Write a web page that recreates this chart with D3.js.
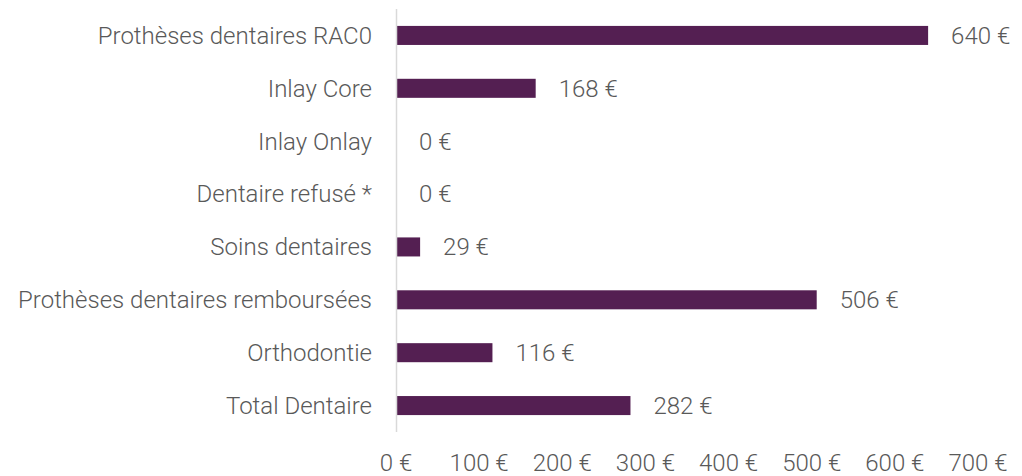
<!DOCTYPE html>
<html>
<head>
<meta charset="utf-8">
<script src="https://cdn.jsdelivr.net/npm/d3@7"></script>
<style>
  body { margin: 0; background: #fff; }
  text { font-family: Roboto, "Open Sans", sans-serif; font-weight: 300; fill: #595959; }
</style>
</head>
<body>
<svg id="chart" width="1022" height="476"></svg>
<script>
const categories = [
  "Prothèses dentaires RAC0",
  "Inlay Core",
  "Inlay Onlay",
  "Dentaire refusé *",
  "Soins dentaires",
  "Prothèses dentaires remboursées",
  "Orthodontie",
  "Total Dentaire"
];
const values = [640, 168, 0, 0, 29, 506, 116, 282];
const xTicks = [0, 100, 200, 300, 400, 500, 600, 700];

const W = 1022, H = 476;
const plotLeft = 396, plotRight = 978, plotTop = 9, plotBottom = 432;
const fontSize = 24;

const svg = d3.select("#chart");

const x = d3.scaleLinear().domain([0, 700]).range([plotLeft, plotRight]);
const y = d3.scaleBand().domain(categories).range([plotTop, plotBottom]).paddingInner(0.64).paddingOuter(0.32);

const data = categories.map((c, i) => ({cat: c, val: values[i]}));

// bars
svg.append("g")
  .selectAll("rect")
  .data(data)
  .enter().append("rect")
    .attr("x", x(0))
    .attr("y", d => y(d.cat))
    .attr("width", d => x(d.val) - x(0))
    .attr("height", y.bandwidth())
    .attr("fill", "#541f52");

// vertical axis line
svg.append("line")
  .attr("x1", x(0) + 0.5).attr("x2", x(0) + 0.5)
  .attr("y1", plotTop).attr("y2", plotBottom)
  .attr("stroke", "#d9d9d9")
  .attr("stroke-width", 1.5);

// category labels
svg.append("g")
  .selectAll("text")
  .data(data)
  .enter().append("text")
    .attr("x", x(0) - 24)
    .attr("y", d => y(d.cat) + y.bandwidth() / 2)
    .attr("dy", "0.35em")
    .attr("text-anchor", "end")
    .style("font-size", fontSize + "px")
    .text(d => d.cat);

// value labels
svg.append("g")
  .selectAll("text")
  .data(data)
  .enter().append("text")
    .attr("x", d => x(d.val) + 23)
    .attr("y", d => y(d.cat) + y.bandwidth() / 2)
    .attr("dy", "0.35em")
    .style("font-size", fontSize + "px")
    .text(d => d.val + " €");

// x tick labels
svg.append("g")
  .selectAll("text")
  .data(xTicks)
  .enter().append("text")
    .attr("x", d => x(d))
    .attr("y", 463)
    .attr("dy", "0.35em")
    .attr("text-anchor", "middle")
    .style("font-size", fontSize + "px")
    .text(d => d + " €");
</script>
</body>
</html>
